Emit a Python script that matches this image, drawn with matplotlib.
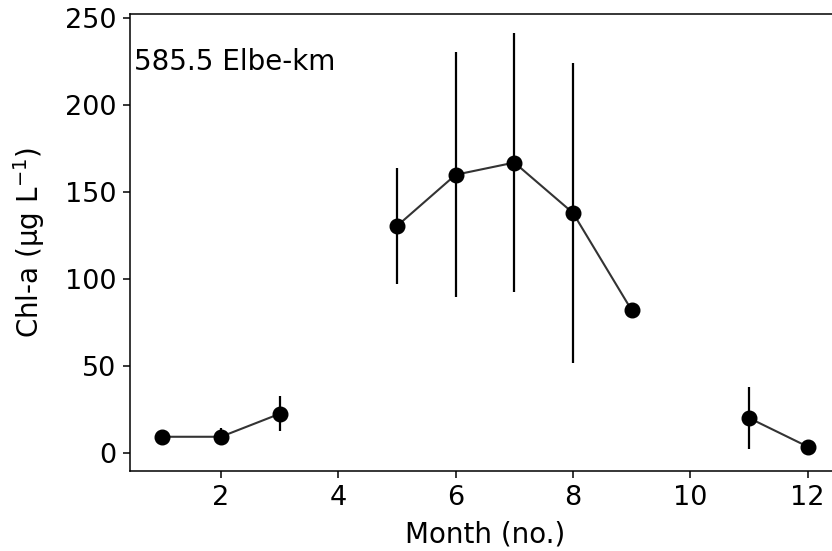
import numpy as np
import matplotlib
matplotlib.use("Agg")
import matplotlib.pyplot as plt

months = [1, 2, 3, 4, 5, 6, 7, 8, 9, 10, 11, 12]
chla_mean = [9.2, 9.2, 22.4, np.nan, 130.5, 160.0, 167.0, 138.0, 82.0, np.nan, 20.0, 3.5]
chla_err = [0.0, 5.0, 10.0, np.nan, 33.5, 70.5, 74.5, 86.5, 0.0, np.nan, 18.0, 0.0]
station_label = "585.5 Elbe-km"

plt.rcParams['font.family'] = ['DejaVu Sans']
fig = plt.figure(figsize=(8.32, 5.51), dpi=100)
ax = fig.add_axes([130/832, 1-471/551, 710/832, 457/551])

ax.plot(months, chla_mean, color='#333333', lw=1.5, zorder=2)
ax.errorbar(months, chla_mean, yerr=chla_err, fmt='o', color='black', ms=10.5,
            elinewidth=1.6, capsize=0, zorder=3)

ax.set_xlim(0.45, 12.55)
ax.set_ylim(-10.5, 252.5)
ax.set_xticks([2, 4, 6, 8, 10, 12])
ax.set_yticks([0, 50, 100, 150, 200, 250])
for s in ax.spines.values():
    s.set_linewidth(1.1)
ax.tick_params(labelsize=19.5, length=5, width=1.1, pad=5)
ax.set_xlabel("Month (no.)", fontsize=20, labelpad=7)
ax.set_ylabel("Chl-a (µg L$^{-1}$)", fontsize=20, labelpad=13)
ax.text(0.005, 0.895, station_label, transform=ax.transAxes, fontsize=20,
        ha='left', va='center')

fig.savefig("out.png", dpi=100)
